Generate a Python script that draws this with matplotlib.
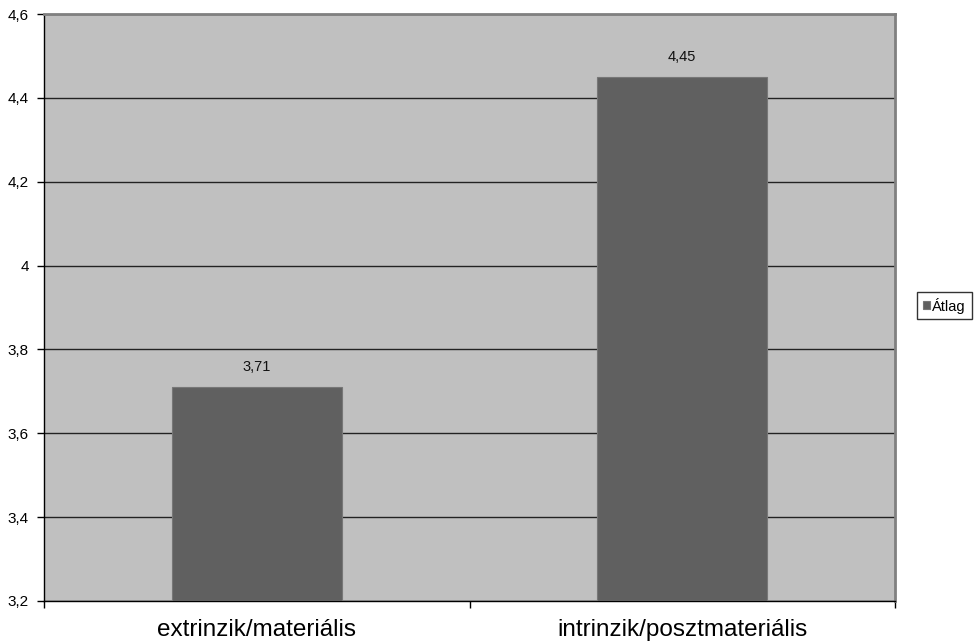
import matplotlib.pyplot as plt
import matplotlib.ticker as mticker

categories = ["extrinzik/materiális", "intrinzik/posztmateriális"]
values = [3.71, 4.45]
value_labels = ["3,71", "4,45"]
yticks = [3.2, 3.4, 3.6, 3.8, 4.0, 4.2, 4.4, 4.6]
series_name = "Átlag"

plt.rcParams['font.family'] = ['Liberation Sans', 'DejaVu Sans']

fig = plt.figure(figsize=(9.75, 6.44), dpi=100)
ax = fig.add_axes([44 / 975, 43 / 644, 851 / 975, 587 / 644])
ax.set_facecolor("#C0C0C0")

x = list(range(len(categories)))
bars = ax.bar(x, values, width=0.4, color="#606060", edgecolor="#777777",
              linewidth=0.8, label=series_name, zorder=3)

for b, lab in zip(bars, value_labels):
    ax.annotate(lab, (b.get_x() + b.get_width() / 2, b.get_height()),
                xytext=(0, 20), textcoords="offset pixels",
                ha="center", va="center", fontsize=10.5, color="#111111")

ax.set_xlim(-0.5, len(categories) - 0.5)
ax.set_ylim(3.2, 4.6)
ax.set_yticks(yticks)
ax.yaxis.set_major_formatter(mticker.FuncFormatter(
    lambda v, p: ("%g" % round(v, 1)).replace(".", ",")))
ax.yaxis.grid(True, color="#222222", linewidth=1.0, zorder=1)

# category labels centred, ticks on the category boundaries
ax.set_xticks(x)
ax.set_xticklabels(categories, fontsize=17.5)
ax.tick_params(axis="x", length=0, pad=13)
ax.set_xticks([-0.5, 0.5, 1.5], minor=True)
ax.tick_params(axis="x", which="minor", length=5, width=1, direction="out")
ax.tick_params(axis="y", length=5, width=1, labelsize=11, direction="out", pad=6)

ax.spines["left"].set_color("black")
ax.spines["bottom"].set_color("black")
ax.spines["top"].set_color("#808080")
ax.spines["right"].set_color("#808080")
ax.spines["top"].set_linewidth(2)
ax.spines["right"].set_linewidth(2)
ax.spines["left"].set_linewidth(1)
ax.spines["bottom"].set_linewidth(1)

leg = fig.legend(loc="center left", bbox_to_anchor=(917 / 975, 1 - 305.5 / 644),
                 fontsize=10.5, frameon=True, fancybox=False, handlelength=0.5,
                 handleheight=0.5, handletextpad=0.15, borderpad=0.4,
                 borderaxespad=0)
leg.get_frame().set_edgecolor("black")
leg.get_frame().set_linewidth(1)

fig.savefig("out.png", dpi=100)
